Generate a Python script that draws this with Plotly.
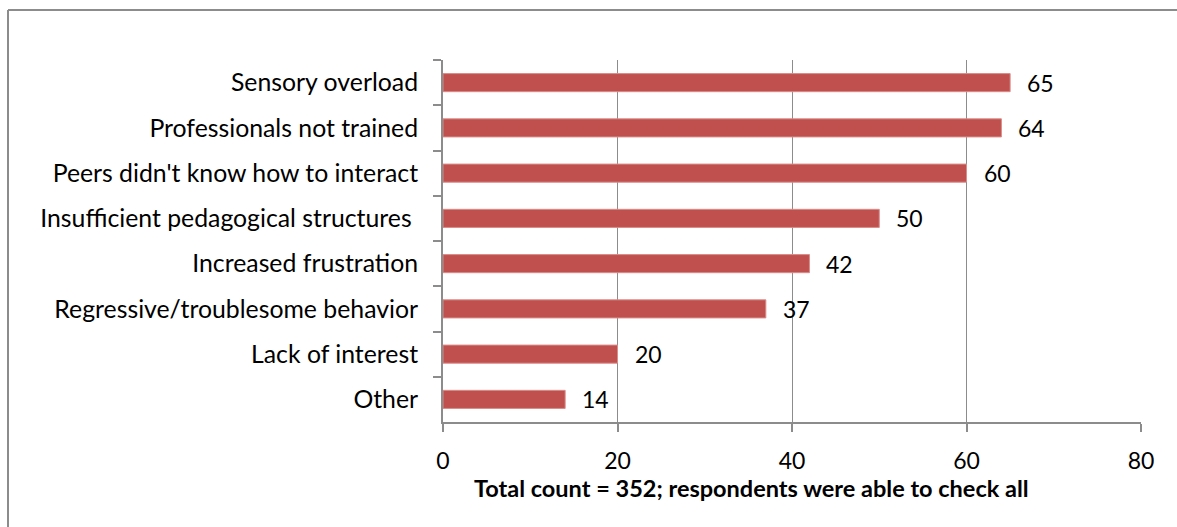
import plotly.graph_objects as go

categories = ["Sensory overload", "Professionals not trained", "Peers didn't know how to interact",
              "Insufficient pedagogical structures ", "Increased frustration",
              "Regressive/troublesome behavior", "Lack of interest", "Other"]
values = [65, 64, 60, 50, 42, 37, 20, 14]
x_ticks = [0, 20, 40, 60, 80]
axis_title = "Total count = 352; respondents were able to check all"

W, H = 1177, 527
L, R, T, B = 443, 36, 60, 105
pw, ph = W - L - R, H - T - B

def px(x):
    return (x - L) / pw

def py(y):
    return (H - B - y) / ph

FONT = "Lato"
grey = "#8c8c8c"

fig = go.Figure()
fig.add_trace(go.Bar(
    y=categories, x=values, orientation="h",
    marker=dict(color="#C0504D", line=dict(color="#D98C8A", width=1)),
    width=0.4, hoverinfo="skip",
))

for c, v in zip(categories, values):
    fig.add_annotation(x=v, y=c, text=str(v), showarrow=False, xanchor="left",
                       xshift=15, font=dict(family=FONT, size=23, color="black"))

fig.add_annotation(xref="paper", yref="paper", x=px(751), y=py(488), text="<b>" + axis_title + "</b>",
                   showarrow=False, xanchor="center", yanchor="middle",
                   font=dict(family=FONT, size=23.5, color="black"))

fig.add_shape(type="line", xref="paper", yref="paper", x0=px(8), x1=px(1180), y0=py(10), y1=py(10),
              line=dict(color=grey, width=2))
fig.add_shape(type="line", xref="paper", yref="paper", x0=px(8), x1=px(8), y0=py(10), y1=py(530),
              line=dict(color=grey, width=2))

fig.update_layout(
    width=W, height=H, margin=dict(l=L, r=R, t=T, b=B),
    paper_bgcolor="white", plot_bgcolor="white", showlegend=False,
    font=dict(family=FONT, size=23, color="black"),
    bargap=0.6,
)
fig.update_xaxes(range=[0, 80], tickvals=x_ticks, showgrid=True, gridcolor=grey, gridwidth=1,
                 showline=True, linecolor=grey, linewidth=2, ticks="outside", ticklen=8,
                 tickcolor=grey, tickwidth=2, zeroline=False, ticklabelstandoff=9,
                 tickfont=dict(family=FONT, size=23))
fig.update_yaxes(autorange="reversed", showline=True, linecolor=grey, linewidth=2, ticks="outside",
                 tickson="boundaries", ticklen=8, tickcolor=grey, tickwidth=2, showgrid=False,
                 ticklabelstandoff=18, tickfont=dict(family=FONT, size=24.8))

fig.write_html("out.html")
